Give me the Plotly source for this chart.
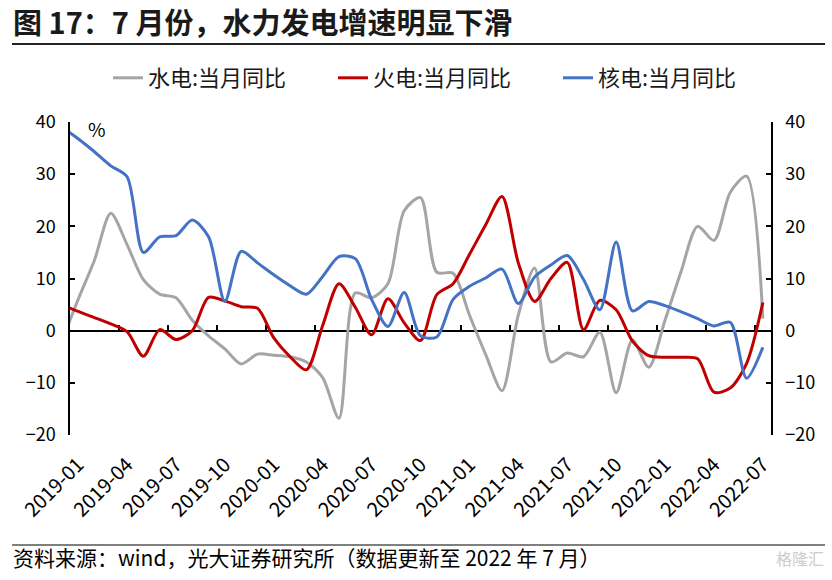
import plotly.graph_objects as go

# ---------------- data ----------------
months = [f"{y}-{m:02d}" for y in range(2018, 2023) for m in range(1, 13)]
months = months[months.index("2018-12"): months.index("2022-07") + 1]

hydro = [-2.0,
         6.0, 13.5, 22.5, 16.5, 9.8, 7.0, 6.3, 2.0, -1.0, -3.5, -6.4, -4.5,
         -4.7, -5.0, -6.0, -9.0, -16.8, 7.2, 6.3, 9.0, 23.0, 25.5, 11.2, 11.0,
         3.0, -4.6, -11.5, 3.0, 12.0, -6.0, -4.3, -5.0, -0.3, -11.9, -1.8, -7.0,
         2.0, 11.5, 20.0, 17.3, 26.5, 29.6, 2.3]
thermal = [5.0,
           3.7, 2.5, 1.3, -0.2, -4.9, 0.2, -1.7, 0.0, 6.4, 5.7, 4.6, 4.3,
           -1.4, -5.0, -7.5, 1.0, 9.0, 4.5, -0.8, 6.1, 1.5, -1.9, 6.9, 9.0,
           14.6, 20.3, 25.7, 13.0, 5.6, 10.0, 13.1, 0.2, 5.8, 4.0, -2.0, -4.8,
           -5.1, -5.1, -5.4, -11.8, -11.0, -6.3, 5.4]
nuclear = [39.0,
           36.8, 34.3, 31.6, 29.5, 15.0, 18.0, 18.2, 21.2, 18.0, 5.6, 15.2, 13.0,
           10.7, 8.6, 7.0, 10.4, 14.2, 13.8, 6.0, 0.8, 7.3, -1.0, -1.2, 6.0,
           8.5, 10.1, 11.8, 5.2, 10.3, 12.6, 14.4, 9.8, 4.0, 17.0, 3.8, 5.6,
           4.8, 3.6, 2.3, 0.9, 1.6, -9.1, -3.2]

series_names = ["水电:当月同比", "火电:当月同比", "核电:当月同比"]
series_colors = ["#A5A5A5", "#C00000", "#4472C4"]

tick_labels = ["2019-01", "2019-04", "2019-07", "2019-10",
               "2020-01", "2020-04", "2020-07", "2020-10",
               "2021-01", "2021-04", "2021-07", "2021-10",
               "2022-01", "2022-04", "2022-07"]

title_text = "图 17：7 月份，水力发电增速明显下滑"
source_text = "资料来源：wind，光大证券研究所（数据更新至 2022 年 7 月）"

# ---------------- figure ----------------
FONT = "Noto Sans CJK SC"
W, H = 832, 580
L, R, T, B = 70, 61, 122, 145
PW, PH = W - L - R, H - T - B


def px(xp):
    return (xp - L) / PW


def py(yp):
    return (H - B - yp) / PH


x = list(range(len(months)))
xr = [months.index("2019-01") - 0.5, len(months) - 0.5]

fig = go.Figure()
for name, vals, col in zip(series_names, [hydro, thermal, nuclear], series_colors):
    fig.add_trace(go.Scatter(
        x=x, y=vals, name=name, mode="lines",
        line=dict(color=col, width=3, shape="spline", smoothing=0.8),
        hoverinfo="skip"))

# helper empty traces so that the label axis and right axis get drawn
fig.add_trace(go.Scatter(x=[], y=[], xaxis="x2", yaxis="y", showlegend=False, hoverinfo="skip"))
fig.add_trace(go.Scatter(x=[], y=[], xaxis="x", yaxis="y2", showlegend=False, hoverinfo="skip"))

yax = dict(range=[-20, 40], dtick=10, showgrid=False, zeroline=False, automargin=False,
           showline=True, linecolor="black", linewidth=1.5,
           ticks="inside", ticklen=5, tickwidth=1.5, tickcolor="black",
           ticklabelstandoff=9,
           tickfont=dict(family=FONT, size=18, color="black"))

fig.update_layout(
    width=W, height=H,
    paper_bgcolor="white", plot_bgcolor="white",
    margin=dict(l=L, r=R, t=T, b=B, autoexpand=False),
    font=dict(family=FONT, color="black"),
    showlegend=True,
    legend=dict(orientation="h", x=px(108), xanchor="left",
                yref="container", y=1 - 78 / H, yanchor="middle",
                font=dict(family=FONT, size=22, color="#1a1a1a"),
                entrywidth=180, entrywidthmode="pixels", bgcolor="rgba(0,0,0,0)"),
    # data axis drawn as the zero line with boundary ticks
    xaxis=dict(range=xr, anchor="free", position=1 / 3, showgrid=False, zeroline=False,
               automargin=False,
               showline=True, linecolor="black", linewidth=1.5,
               tickmode="linear", tick0=months.index("2019-03") + 0.5, dtick=3,
               ticks="inside", ticklen=5, tickwidth=1.5, tickcolor="black",
               showticklabels=False, layer="below traces"),
    # label axis at the bottom
    xaxis2=dict(range=xr, overlaying="x", anchor="y", side="bottom", automargin=False,
                showgrid=False, zeroline=False, showline=False, ticks="",
                tickmode="array", tickvals=[months.index(t) for t in tick_labels],
                ticktext=tick_labels, tickangle=-45, ticklabelstandoff=13,
                tickfont=dict(family=FONT, size=20, color="black")),
    yaxis=dict(**yax, anchor="x", side="left"),
    yaxis2=dict(**yax, overlaying="y", anchor="x", side="right"),
)

# title
fig.add_annotation(text=f"<b>{title_text}</b>", xref="paper", yref="paper",
                   x=px(11), xanchor="left", y=py(21), yanchor="middle",
                   showarrow=False, font=dict(family=FONT, size=29, color="#1a1a1a"))

# "%" unit label
fig.add_annotation(text="%", xref="paper", yref="paper", x=px(97), xanchor="center",
                   y=py(128), yanchor="middle",
                   showarrow=False, font=dict(family=FONT, size=19, color="black"))

# rule under the title and above the source
fig.add_shape(type="line", xref="paper", yref="paper", layer="above",
              x0=px(12), x1=px(825), y0=py(44), y1=py(44),
              line=dict(color="#222222", width=2))
fig.add_shape(type="line", xref="paper", yref="paper", layer="above",
              x0=px(12), x1=px(825), y0=py(545), y1=py(545),
              line=dict(color="#555555", width=1.5))

fig.add_annotation(text=source_text, xref="paper", yref="paper",
                   x=px(11), xanchor="left", y=py(557), yanchor="middle",
                   showarrow=False, font=dict(family=FONT, size=21, color="black"))
fig.add_annotation(text="格隆汇", xref="paper", yref="paper",
                   x=px(826), xanchor="right", y=py(558), yanchor="middle",
                   showarrow=False, font=dict(family=FONT, size=16, color="#cccccc"))

fig.write_html("out.html", config={"displayModeBar": False},
               post_script="document.body.style.margin='0px';")
